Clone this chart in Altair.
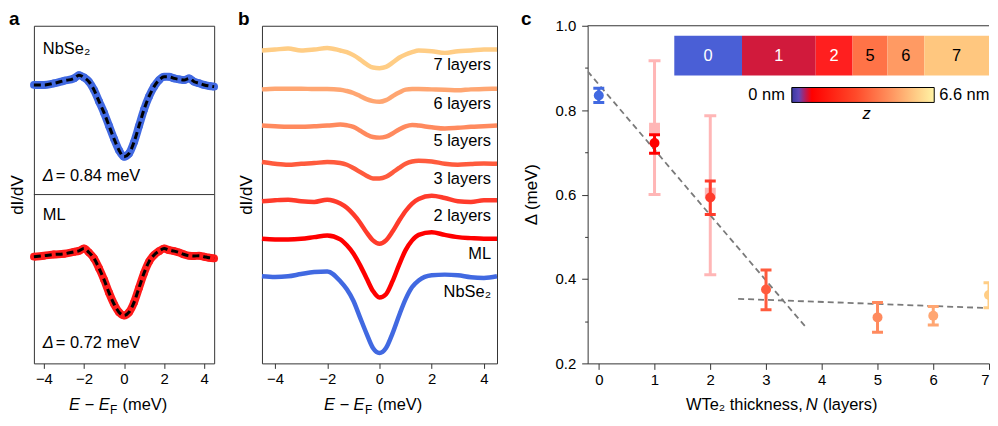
import altair as alt
import pandas as pd

FONT = "Liberation Sans"
FRAME = "#333333"
ONE = pd.DataFrame({"k": [0]})

# ---------------- panel a : dI/dV spectra with fits ----------------
E_a = [-4.5, -4.0, -3.5, -3.0, -2.5, -2.25, -2.0, -1.75, -1.5, -1.25, -1.0, -0.75, -0.5, -0.25,
       0.0, 0.25, 0.5, 0.75, 1.0, 1.25, 1.5, 1.75, 2.0, 2.25, 2.5, 2.75, 3.0, 3.25,
       3.5, 3.75, 4.0, 4.25, 4.5]
didv_a_nbse2 = [112.0, 112.0, 113.7, 116.3, 118.7, 122.0, 119.7, 115.3, 107.0, 95.3, 83.7, 70.3, 57.0, 45.3,
                38.7, 42.0, 53.7, 70.3, 87.0, 100.3, 110.3, 117.0, 120.3, 120.3, 118.7, 117.7, 117.0, 118.7,
                115.3, 113.7, 112.0, 111.0, 110.3]
didv_a_ml = [109.0, 110.0, 111.3, 112.0, 114.0, 115.0, 117.3, 113.3, 107.3, 97.3, 85.7, 72.3, 60.7, 52.3,
             49.0, 52.3, 62.3, 77.3, 92.3, 104.0, 110.7, 114.7, 117.3, 115.7, 114.7, 113.3, 111.3, 110.0,
             109.7, 110.0, 109.0, 108.0, 107.3]
parts_a = ["NbSe₂", "ML"]
colors_a = ["#4169e1", "#ff1a1a"]
offsets_a = [172.5, 0.0]          # vertical stacking of the two sub-panels (a.u.)
E_TICKS = [-4, -2, 0, 2, 4]

# ---------------- panel b : thickness series ----------------
E_b = [-4.5, -4.0, -3.5, -3.0, -2.5, -2.0, -1.5, -1.25, -1.0, -0.75, -0.5, -0.25, 0.0,
       0.25, 0.5, 0.75, 1.0, 1.25, 1.5, 2.0, 2.5, 3.0, 3.5, 4.0, 4.5]
didv_b_nbse2 = [89.0, 88.3, 89.0, 91.3, 93.3, 94.0, 84.0, 75.7, 64.0, 47.3, 30.7, 15.7, 10.7,
                15.7, 30.7, 49.0, 65.7, 78.0, 84.7, 90.0, 90.7, 90.0, 88.0, 87.3, 89.0]
didv_b_ml = [127.3, 126.7, 126.7, 127.3, 129.0, 130.7, 126.7, 120.7, 112.3, 100.7, 87.3, 74.0, 67.3,
             70.7, 84.0, 100.7, 115.7, 125.7, 131.3, 134.0, 131.3, 129.0, 128.0, 127.3, 127.3]
didv_b_2l = [165.7, 166.7, 167.3, 165.7, 165.0, 167.3, 163.3, 159.0, 152.3, 144.0, 134.0, 125.7, 122.3,
             125.7, 134.7, 145.7, 155.7, 163.3, 168.0, 171.3, 169.0, 165.7, 165.0, 166.7, 166.7]
didv_b_3l = [205.7, 204.0, 203.0, 204.0, 204.7, 205.7, 204.7, 203.0, 199.7, 195.7, 191.7, 189.0, 189.0,
             190.7, 195.0, 199.7, 204.0, 206.3, 207.0, 206.3, 204.0, 203.0, 203.7, 204.3, 204.0]
didv_b_5l = [243.0, 242.3, 241.7, 241.7, 242.3, 243.0, 244.0, 243.3, 241.7, 238.0, 234.0, 231.3, 230.7,
             231.7, 235.0, 239.0, 242.3, 243.7, 243.0, 241.3, 240.0, 240.7, 241.7, 242.3, 243.0]
didv_b_6l = [280.0, 280.7, 280.7, 280.7, 280.3, 280.3, 279.7, 278.3, 276.3, 273.3, 270.0, 268.0, 267.3,
             269.0, 273.0, 276.7, 279.7, 280.3, 280.3, 280.0, 279.7, 279.0, 280.0, 280.3, 280.7]
didv_b_7l = [319.7, 320.7, 321.7, 319.7, 320.7, 322.3, 319.7, 318.0, 315.0, 310.7, 305.7, 302.3, 301.7,
             303.0, 307.3, 312.3, 315.7, 318.0, 319.7, 319.0, 317.3, 319.0, 319.7, 320.7, 320.7]
names_b = ["NbSe₂", "ML", "2 layers", "3 layers", "5 layers", "6 layers", "7 layers"]
colors_b = ["#4169e1", "#ff0000", "#ff3b2b", "#ff5b3d", "#ff8a5e", "#ffa672", "#ffcd85"]

# ---------------- panel c : gap vs thickness ----------------
N_c = [0, 1, 2, 3, 5, 6, 7]
gap_c = [0.835, 0.722, 0.593, 0.375, 0.309, 0.313, 0.362]
gap_lo_c = [0.818, 0.698, 0.553, 0.327, 0.274, 0.291, 0.332]
gap_hi_c = [0.852, 0.742, 0.632, 0.421, 0.344, 0.335, 0.391]
colors_c = ["#4169e1", "#ff0000", "#ff3b2b", "#ff5b3d", "#ff8a5e", "#ffa672", "#ffcd85"]
N_light = [1, 2]
gap_light = [0.757, 0.603]
gap_light_lo = [0.600, 0.410]
gap_light_hi = [0.917, 0.787]
fit_steep_N = [-0.2, 3.7]
fit_steep_gap = [0.892, 0.288]
fit_flat_N = [2.5, 7.0]
fit_flat_gap = [0.353, 0.331]
Y_TICKS = [0.2, 0.3, 0.4, 0.5, 0.6, 0.7, 0.8, 0.9, 1.0]

# inset topography strip (image columns) and its layer numbers
strip_labels = ["0", "1", "2", "5", "6", "7"]
strip_edges = [0, 68, 142, 179, 214, 251, 316]
strip_colors = ["#4a5fd6", "#d11a3c", "#ff1f1f", "#ff7347", "#ff9a63", "#ffc77f"]
strip_text_colors = ["white", "white", "white", "black", "black", "black"]
cbar_stops = [(0.0, "#3a3aa0"), (0.05, "#6048b8"), (0.10, "#c01850"), (0.14, "#ff0000"),
              (0.45, "#ff4a2a"), (0.70, "#ff9560"), (0.88, "#ffcf88"), (1.0, "#fff3a5")]

TXT = 16.5
H = 339            # plot height of all panels
TITLE_DY = 42      # x-title centre below the plot


def text(t, x, y, size=TXT, align="left", style="normal", weight="normal", color="black",
         baseline="middle", angle=0):
    return alt.Chart(ONE).mark_text(text=t, fontSize=size, align=align, baseline=baseline, font=FONT,
                                    fontStyle=style, fontWeight=weight, color=color, angle=angle).encode(
        x=alt.value(x), y=alt.value(y))


def letter(t, x):
    return text(t, x, -1, size=19, weight="bold", baseline="alphabetic")


def ee_title(x_right, y):
    return [text("E − E", x_right, y, size=16.5, align="right", style="italic"),
            text("F", x_right + 0.5, y + 5, size=12),
            text("(meV)", x_right + 13, y, size=16.5)]


def spacer(w):
    return alt.Chart(ONE).mark_point(opacity=0).encode(x=alt.value(0), y=alt.value(0)).properties(
        width=w, height=H, view=alt.ViewBackground(stroke="transparent"))


X_E_AXIS = alt.Axis(values=E_TICKS, tickSize=5, domain=False, title=None, labelPadding=3, labelFontSize=15)
E_SCALE = alt.Scale(domain=[-4.5, 4.5], nice=False, zero=False)

# ---- panel a ----
rows_a = []
for part, col, off, vals in zip(parts_a, colors_a, offsets_a, [didv_a_nbse2, didv_a_ml]):
    for e, v in zip(E_a, vals):
        rows_a.append({"E": e, "didv": v, "part": part, "col": col, "off": off})
df_a = pd.DataFrame(rows_a)
ya_axis = alt.Axis(title="dI/dV", labels=False, ticks=False, domain=False, titlePadding=7,
                   titleFontSize=17, minExtent=0)
base_a = alt.Chart(df_a).transform_calculate(y="datum.didv + datum.off").encode(
    x=alt.X("E:Q", scale=E_SCALE, axis=X_E_AXIS),
    y=alt.Y("y:Q", scale=alt.Scale(domain=[0, 345], nice=False, zero=False), axis=ya_axis),
    detail="part:N")
col_a = alt.Color("col:N", scale=None)
band_a = base_a.mark_line(strokeWidth=8, interpolate="monotone").encode(color=col_a)
pts_a = base_a.mark_circle(size=60, opacity=1).encode(color=col_a)
fit_a = base_a.mark_line(color="black", strokeWidth=3, strokeDash=[7, 4], interpolate="monotone")
divider = alt.Chart(ONE).mark_rule(color=FRAME, strokeWidth=1).encode(
    x=alt.value(0), x2=alt.value(181), y=alt.value(H / 2))
panel_a = alt.layer(
    band_a, pts_a, fit_a, divider,
    text("NbSe₂", 9, 23.5),
    text("Δ", 9, 151, style="italic"),
    text("= 0.84 meV", 22, 151),
    text("ML", 9, H / 2 + 20.5),
    text("Δ", 9, H / 2 + 149, style="italic"),
    text("= 0.72 meV", 22, H / 2 + 149),
    letter("a", -25),
    *ee_title(76, H + TITLE_DY),
).properties(width=181, height=H)

# ---- panel b ----
rows = []
for name, col, vals in zip(names_b, colors_b,
                           [didv_b_nbse2, didv_b_ml, didv_b_2l, didv_b_3l, didv_b_5l, didv_b_6l, didv_b_7l]):
    for e, v in zip(E_b, vals):
        rows.append({"E": e, "didv": v, "series": name, "col": col})
df_b = pd.DataFrame(rows)
xb = alt.X("E:Q", scale=E_SCALE, axis=X_E_AXIS)
yb_axis = alt.Axis(title="dI/dV", labels=False, ticks=False, domain=False, titlePadding=7,
                   titleFontSize=17, minExtent=0)
yb_scale = alt.Scale(domain=[0, 345], nice=False, zero=False)
lines_b = alt.Chart(df_b).mark_line(strokeWidth=4.5, interpolate="monotone").encode(
    x=xb, y=alt.Y("didv:Q", scale=yb_scale, axis=yb_axis), color=alt.Color("col:N", scale=None),
    detail="series:N")
labels_b = alt.Chart(df_b).transform_filter("datum.E == 4.5").transform_calculate(
    ly="datum.didv - 16").mark_text(align="right", baseline="middle", fontSize=TXT, font=FONT,
                                     color="black").encode(
    x=alt.value(230), y=alt.Y("ly:Q", scale=yb_scale, axis=yb_axis), text="series:N")
panel_b = alt.layer(lines_b, labels_b, letter("b", -24),
                    *ee_title(103, H + TITLE_DY)).properties(width=236, height=H)

# ---- panel c ----
WC = 403
xs = alt.Scale(domain=[-0.2, 7.0], nice=False, zero=False)
ys = alt.Scale(domain=[0.2, 1.0], nice=False, zero=False)
xax_c = alt.Axis(values=list(range(8)), tickSize=6, title=None, labelPadding=3, format="d", labelFontSize=15)
yax_c = alt.Axis(values=Y_TICKS,
                 tickSize={"condition": {"test": "round(datum.value*10) % 2 == 0", "value": 6}, "value": 3},
                 labelExpr="round(datum.value*10) % 2 == 0 ? format(datum.value, '.1f') : ''",
                 title=None, labelPadding=6, labelFontSize=15)
XC = alt.X("N:Q", scale=xs, axis=xax_c)


def YC(f):
    return alt.Y(f, scale=ys, axis=yax_c)


df_c = pd.DataFrame({"N": N_c, "gap": gap_c, "lo": gap_lo_c, "hi": gap_hi_c, "col": colors_c})
df_l = pd.DataFrame({"N": N_light, "gap": gap_light, "lo": gap_light_lo, "hi": gap_light_hi})
fit_rows = ([{"N": n, "gap": g, "fit": "steep"} for n, g in zip(fit_steep_N, fit_steep_gap)] +
            [{"N": n, "gap": g, "fit": "flat"} for n, g in zip(fit_flat_N, fit_flat_gap)])
df_f = pd.DataFrame(fit_rows)
LIGHT = "#ffb6b6"
col_c = alt.Color("col:N", scale=None)

light_bar = alt.Chart(df_l).mark_rule(color=LIGHT, strokeWidth=3, clip=True).encode(
    x=XC, y=YC("lo:Q"), y2="hi:Q")
light_cap = alt.Chart(df_l).transform_fold(["lo", "hi"], as_=["end", "val"]).mark_tick(
    color=LIGHT, orient="horizontal", size=12, thickness=3, opacity=1, clip=True).encode(x=XC, y=YC("val:Q"))
light_sq = alt.Chart(df_l).mark_square(color=LIGHT, size=120, opacity=1, clip=True).encode(x=XC, y=YC("gap:Q"))
fits = alt.Chart(df_f).mark_line(color="#7a7a7a", strokeWidth=1.8, strokeDash=[6, 4], clip=True).encode(
    x=XC, y=YC("gap:Q"), detail="fit:N")
dark_bar = alt.Chart(df_c).mark_rule(strokeWidth=3, clip=True).encode(x=XC, y=YC("lo:Q"), y2="hi:Q", color=col_c)
dark_cap = alt.Chart(df_c).transform_fold(["lo", "hi"], as_=["end", "val"]).mark_tick(
    orient="horizontal", size=11, thickness=3, opacity=1, clip=True).encode(x=XC, y=YC("val:Q"), color=col_c)
dots = alt.Chart(df_c).mark_circle(size=100, opacity=1, clip=True).encode(x=XC, y=YC("gap:Q"), color=col_c)
main_c = alt.layer(light_bar, light_cap, light_sq, fits, dark_bar, dark_cap, dots)

df_s = pd.DataFrame({"lab": strip_labels, "x0": strip_edges[:-1], "x1": strip_edges[1:],
                     "fill": strip_colors, "tcol": strip_text_colors})
sx = alt.Scale(domain=[0, 316], range=[87, 403])
strip = alt.Chart(df_s).mark_rect(clip=True).encode(
    x=alt.X("x0:Q", scale=sx, axis=None), x2="x1:Q", y=alt.value(10), y2=alt.value(50),
    color=alt.Color("fill:N", scale=None))
strip_txt = alt.Chart(df_s).transform_calculate(mid="(datum.x0 + datum.x1) / 2").mark_text(
    fontSize=TXT, font=FONT, baseline="middle").encode(
    x=alt.X("mid:Q", scale=sx, axis=None), y=alt.value(30), text="lab:N",
    color=alt.Color("tcol:N", scale=None))
grad = {"gradient": "linear", "x1": 0, "x2": 1, "y1": 0, "y2": 0,
        "stops": [{"offset": o, "color": c} for o, c in cbar_stops]}
cbar = alt.Chart(ONE).mark_rect(fill=grad, stroke="black", strokeWidth=1).encode(
    x=alt.value(205), x2=alt.value(348), y=alt.value(62), y2=alt.value(77))
top_rule = alt.Chart(ONE).mark_rule(color=FRAME, strokeWidth=1).encode(
    x=alt.value(0), x2=alt.value(WC), y=alt.value(0))
inset = alt.layer(strip, strip_txt, cbar, top_rule,
                  text("0 nm", 198, 69.5, align="right"),
                  text("6.6 nm", 353, 69.5),
                  text("z", 276, 89, style="italic"),
                  letter("c", -67),
                  text("Δ (meV)", -56, H / 2, size=17, align="center", angle=270),
                  text("WTe₂ thickness,", 216, H + TITLE_DY, align="right"),
                  text("N", 219, H + TITLE_DY, style="italic"),
                  text("(layers)", 236, H + TITLE_DY))
panel_c = alt.layer(main_c, inset).resolve_scale(x="independent", y="independent").properties(
    width=WC, height=H, view=alt.ViewBackground(stroke="transparent"))

chart = alt.hconcat(panel_a, spacer(48), panel_b, spacer(91), panel_c, spacing=0, bounds="flush").properties(
    padding=0).configure(font=FONT).configure_view(stroke=FRAME, strokeWidth=1).configure_axis(
    labelFont=FONT, titleFont=FONT, labelColor="black", titleColor="black", titleFontWeight="normal",
    tickColor=FRAME, domainColor=FRAME, grid=False)

chart.save("out.html", embed_options={"renderer": "svg", "actions": False})
